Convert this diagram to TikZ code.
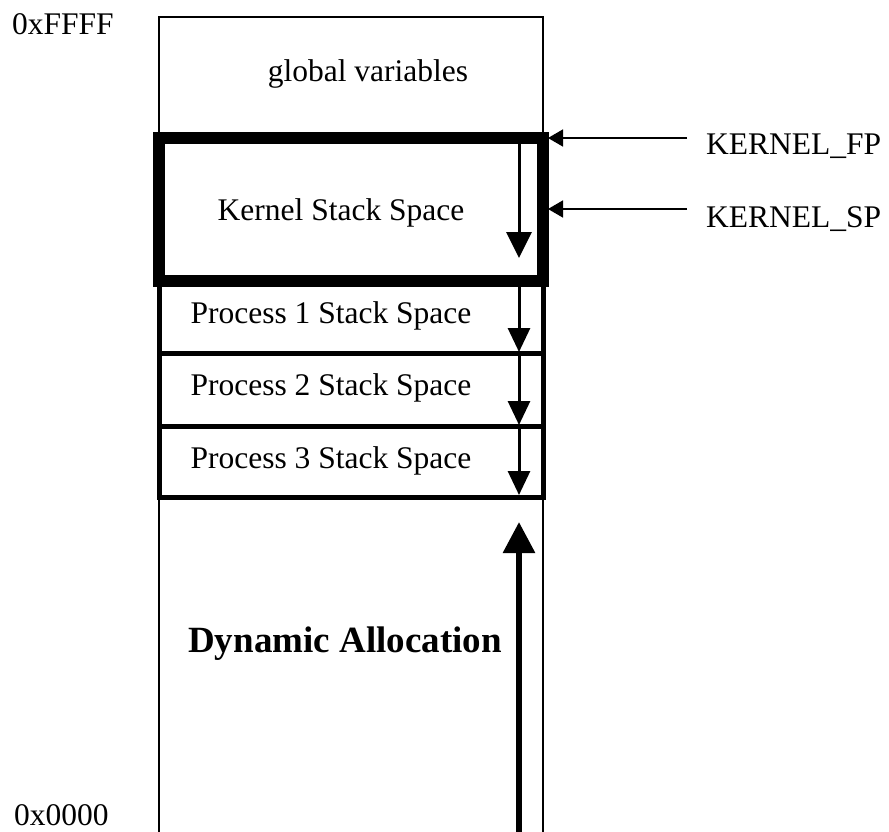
\documentclass[tikz,border=0pt]{standalone}
\usepackage{fontspec}
\setmainfont{Liberation Serif}
\usetikzlibrary{arrows.meta}
\begin{document}
\begin{tikzpicture}[x=1pt,y=-1pt,
  txt/.style={font=\fontsize{31.5}{36}\selectfont, inner sep=0pt, anchor=base},
  lbl/.style={font=\fontsize{31.5}{36}\selectfont, inner sep=0pt, anchor=base west},
  thin/.style={line width=2pt},
  procbox/.style={line width=5pt},
  kbox/.style={line width=12pt},
  down/.style={line width=3pt, -{Triangle[length=24pt,width=22pt]}},
  kdown/.style={line width=3pt, -{Triangle[length=26pt,width=25pt]}},
  ptr/.style={line width=1.5pt, -{Triangle[length=15pt,width=17pt]}},
  up/.style={line width=6pt, -{Triangle[length=31pt,width=31pt]}}]
\useasboundingbox (0,0) rectangle (889,832);
% outer column
\draw[thin] (159,832) -- (159,17) -- (543,17) -- (543,832);
% process boxes
\draw[procbox] (159,281) rectangle (543,353);
\draw[procbox] (159,353) rectangle (543,426);
\draw[procbox] (159,426) rectangle (543,497);
% kernel box
\draw[kbox] (159,138) rectangle (543,281);
% texts
\node[txt] (glob) at (368,82) {global variables};
\node[txt] (kern) at (341,220) {Kernel Stack Space};
\node[txt] (p1) at (331,323) {Process 1 Stack Space};
\node[txt] (p2) at (331,395) {Process 2 Stack Space};
\node[txt] (p3) at (331,468) {Process 3 Stack Space};
\node[txt, font=\fontsize{37}{42}\selectfont\bfseries] (dyn) at (345,652) {Dynamic Allocation};
\node[lbl] (hi) at (12,35) {0xFFFF};
\node[lbl] (lo) at (14,825) {0x0000};
\node[lbl] (fp) at (706,155) {KERNEL\_FP};
\node[lbl] (sp) at (706,227) {KERNEL\_SP};
% stack growth arrows
\coordinate (k0) at (519,144); \coordinate (k1) at (519,258);
\coordinate (a0) at (519,287); \coordinate (a1) at (519,352);
\coordinate (b0) at (519,356); \coordinate (b1) at (519,425);
\coordinate (c0) at (519,429); \coordinate (c1) at (519,495);
\draw[kdown] (k0) -- (k1);
\draw[down] (a0) -- (a1);
\draw[down] (b0) -- (b1);
\draw[down] (c0) -- (c1);
% heap arrow
\coordinate (h0) at (519,832); \coordinate (h1) at (519,522);
\draw[up] (h0) -- (h1);
% pointers
\coordinate (fps) at (687,138); \coordinate (fpt) at (548,138);
\coordinate (sps) at (687,209); \coordinate (spt) at (548,209);
\draw[ptr] (fps) -- (fpt);
\draw[ptr] (sps) -- (spt);
\end{tikzpicture}
\end{document}
